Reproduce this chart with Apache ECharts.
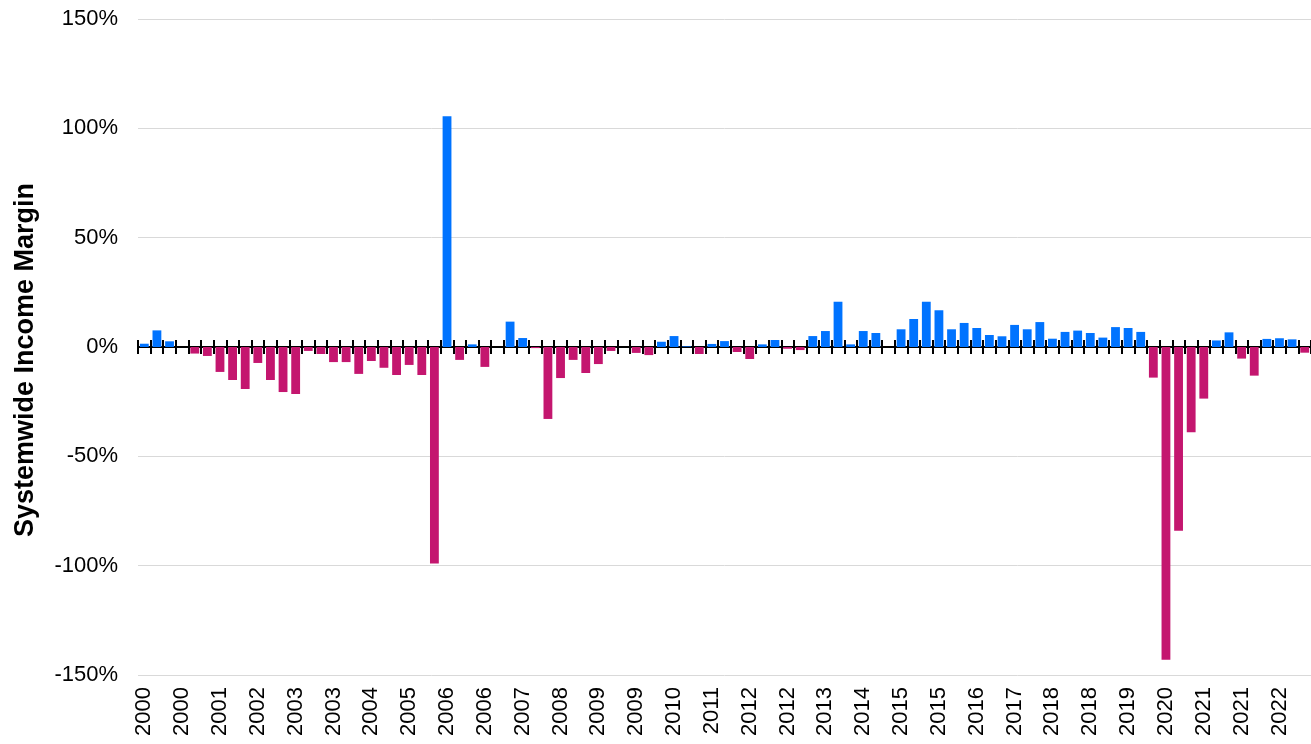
<!DOCTYPE html>
<html>
<head>
<meta charset="utf-8">
<script src="https://cdn.jsdelivr.net/npm/echarts@6/dist/echarts.min.js"></script>
<style>html,body{margin:0;padding:0;background:#fff}#c{width:1311px;height:744px}</style>
</head>
<body>
<div id="c"></div>
<script>
// Quarterly categories, Q1 2000 .. Q1 2023 (labels show the year)
const years = [2000,2001,2002,2003,2004,2005,2006,2007,2008,2009,2010,2011,2012,2013,2014,2015,2016,2017,2018,2019,2020,2021,2022,2023];
const quarters = ['Q1','Q2','Q3','Q4'];
const categories = [];
years.forEach(y => quarters.forEach(q => categories.push(y + ' ' + q)));
categories.length = 93;

// Systemwide income margin (%)
const margin = [
  1.5, 7.6, 2.6, 0, -3.0, -4.1, -11.4, -15.1, -19.2, -7.3,
  -15.1, -20.6, -21.5, -1.8, -3.2, -6.9, -6.9, -12.3, -6.4, -9.5,
  -12.8, -8.2, -12.8, -99, 105.5, -5.9, 1.2, -9.1, 0, 11.6,
  4.1, -0.5, -32.9, -14.2, -5.9, -11.9, -7.8, -1.8, 0, -2.7,
  -3.7, 2.4, 5.0, 0.3, -3.2, 1.4, 2.7, -2.3, -5.5, 1.2,
  3.2, -0.8, -1.4, 5.0, 7.3, 20.7, 1.2, 7.3, 6.4, 0,
  8.1, 12.8, 20.7, 16.8, 8.1, 11.0, 8.7, 5.5, 4.9, 10.1,
  8.1, 11.4, 3.8, 6.9, 7.5, 6.4, 4.3, 9.1, 8.7, 6.9,
  -14.0, -143, -84, -39, -23.6, 3.0, 6.7, -5.3, -13.1, 3.7,
  4.0, 3.5, -2.6
];

const POS = '#0073FF';
const NEG = '#C4166F';
const font = 'Liberation Sans, Arial, sans-serif';

const chart = echarts.init(document.getElementById('c'));
chart.setOption({
  animation: false,
  grid: { left: 138, right: 0, top: 19, bottom: 69 },
  xAxis: [
    {
      type: 'category', data: categories, boundaryGap: true, position: 'bottom',
      axisLine: { onZero: true, onZeroAxisIndex: 0, lineStyle: { color: '#000', width: 2 } },
      axisTick: { show: true, interval: 0, length: 7, lineStyle: { color: '#000', width: 2 } },
      axisLabel: { show: false }, splitLine: { show: false }
    },
    {
      type: 'category', data: categories, boundaryGap: true, position: 'bottom',
      axisLine: { show: true, onZero: true, onZeroAxisIndex: 0, lineStyle: { color: '#000', width: 2 } },
      axisTick: { show: true, inside: true, interval: 0, length: 7, lineStyle: { color: '#000', width: 2 } },
      axisLabel: { show: false }, splitLine: { show: false }
    },
    {
      type: 'category', data: categories, boundaryGap: true, position: 'bottom',
      axisLine: { show: false, onZero: false },
      axisTick: { show: false },
      axisLabel: {
        show: true, interval: 2, rotate: 90, margin: 12,
        color: '#000', fontSize: 22, fontFamily: font,
        formatter: v => v.split(' ')[0]
      },
      splitLine: { show: false }
    }
  ],
  yAxis: {
    type: 'value', min: -150, max: 150, interval: 50,
    name: 'Systemwide Income Margin', nameLocation: 'middle', nameGap: 99,
    nameTextStyle: { color: '#000', fontSize: 27, fontWeight: 'bold', fontFamily: font, padding: [0, 26, 0, 0] },
    axisLine: { show: false }, axisTick: { show: false },
    axisLabel: { color: '#000', fontSize: 22, fontFamily: font, margin: 20, formatter: '{value}%' },
    splitLine: { lineStyle: { color: '#D9D9D9', width: 1 } }
  },
  series: [{
    type: 'bar', xAxisIndex: 0, data: margin,
    barCategoryGap: '30%',
    itemStyle: { color: p => p.value >= 0 ? POS : NEG }
  }]
});
</script>
</body>
</html>
